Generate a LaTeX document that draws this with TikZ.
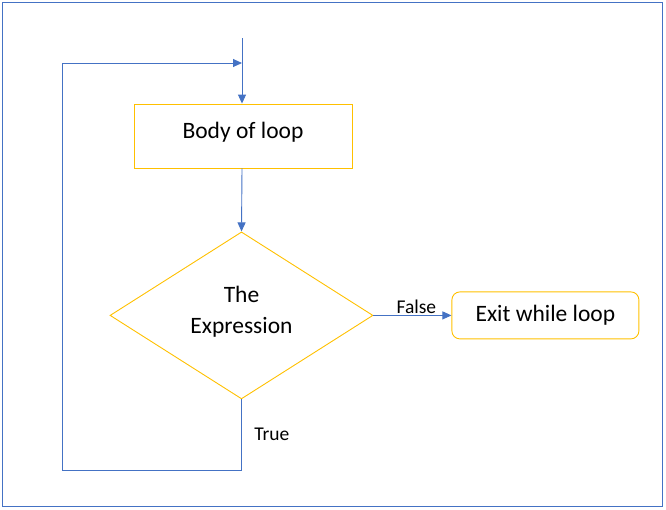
\documentclass[tikz,border=0pt]{standalone}
\usepackage{fontspec}
\setmainfont{Carlito}
\usetikzlibrary{shapes.geometric}
\usetikzlibrary{arrows.meta}
\usetikzlibrary{positioning}
\definecolor{lineblue}{RGB}{68,114,196}
\definecolor{boxgold}{RGB}{255,192,0}

\begin{document}
\begin{tikzpicture}[x=1pt, y=-1pt, >={Triangle[length=9pt, width=8pt]}]

    % Custom styles for boxes and lines
    \tikzstyle{block} = [draw=boxgold, line width=0.9pt, inner sep=0pt, align=center, font=\fontsize{23.5}{31}\selectfont]
    \tikzstyle{flow} = [draw=lineblue, line width=0.9pt]
    \tikzstyle{plain} = [draw=none, fill=none, font=\fontsize{19.5}{22}\selectfont]

    \useasboundingbox (0,0) rectangle (666,509);
    \draw[lineblue, line width=0.8pt] (2,2.5) rectangle (662,506);

    % Define nodes
    \node[block, text depth=11.5pt, minimum width=218pt, minimum height=64pt] (body) at (243,136) {Body of loop};
    \node[block, text depth=11.5pt, diamond, minimum width=263pt, minimum height=167pt, below=63pt of body, xshift=-1.5pt] (cond) {The\\Expression};
    \node[block, rounded corners=8pt, minimum width=187pt, minimum height=47pt, right=78pt of cond] (exit) {Exit while loop};
    \coordinate (start) at (242,38);
    \coordinate (join) at (242,63);
    \coordinate (back) at (62,470);

    % Connect nodes
    \draw[flow, ->] (start) -- (body.north -| start);
    \draw[flow, ->] (body.south -| start) -- (cond.north);
    \draw[flow, ->] (cond.east) -- node[plain, above, pos=0.55, inner sep=1pt] {False} (exit.west);
    \draw[flow, ->] (cond.south) -- node[plain, right, pos=0.5, xshift=9pt] {True} (back -| cond.south) -- (back) |- (join);

\end{tikzpicture}
\end{document}
